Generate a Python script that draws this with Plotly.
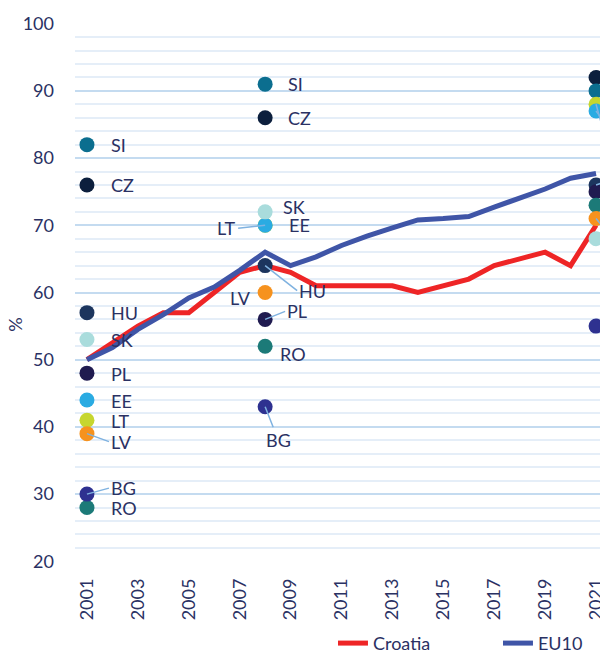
import plotly.graph_objects as go

# ---------------- data ----------------
years = list(range(2001, 2022))
croatia = [50, 52.5, 55, 57, 57, 60, 63, 64, 63, 61, 61, 61, 61, 60, 61, 62, 64, 65, 66, 64, 70]
eu10 = [50, 51.8, 54.5, 56.7, 59.2, 60.8, 63.3, 66, 64, 65.3, 67, 68.4, 69.6, 70.8, 71.0, 71.3, 72.7, 74.0, 75.4, 77.0, 77.7]

point_years = [2001, 2008, 2021]
cz = [76, 86, 92]
si = [82, 91, 90]
hu = [57, 64, 76]
pl = [48, 56, 75]
ro = [28, 52, 73]
lt = [41, 70, 88]
ee = [44, 70, 87]
lv = [39, 60, 71]
sk = [53, 72, 68]
bg = [30, 43, 55]

x_ticks = list(range(2001, 2022, 2))
y_ticks = list(range(20, 101, 10))

# ---------------- style ----------------
TXT = "#2a3163"
LEAD = "#7fb2e0"
FONT = "Lato"

series = [
    ("CZ", cz, "#0c1f3d"),
    ("SI", si, "#0b6e8f"),
    ("HU", hu, "#1c355e"),
    ("PL", pl, "#201b50"),
    ("RO", ro, "#1c7a78"),
    ("LT", lt, "#c6d62f"),
    ("EE", ee, "#2aabe2"),
    ("LV", lv, "#f6921e"),
    ("SK", sk, "#a9dcdc"),
    ("BG", bg, "#2e3190"),
]

# label placement per (country, year index): (dx px, dy px (down +), xanchor, leader?)
label_pos = {
    ("SI", 0): (22, 0, "left", False), ("CZ", 0): (22, 0, "left", False),
    ("HU", 0): (22, 0, "left", False), ("SK", 0): (22, 0, "left", False),
    ("PL", 0): (22, 1, "left", False), ("EE", 0): (22, 1, "left", False),
    ("LT", 0): (22, 1, "left", False), ("LV", 0): (22, 8, "left", True),
    ("BG", 0): (22, -6, "left", True), ("RO", 0): (22, 0, "left", False),

    ("SI", 1): (21, 0, "left", False), ("CZ", 1): (21, 0, "left", False),
    ("SK", 1): (16, -5, "left", False), ("EE", 1): (22, 0, "left", False),
    ("LT", 1): (-27, 3, "right", True), ("HU", 1): (32, 25, "left", True),
    ("LV", 1): (-12, 5, "right", False), ("PL", 1): (20, -8, "left", True),
    ("RO", 1): (13, 8, "left", False), ("BG", 1): (13, 33, "center", True),

    # 2021 labels sit beyond the right edge of the cropped chart
    ("CZ", 2): (26, 0, "left", False), ("SI", 2): (26, 0, "left", False),
    ("LT", 2): (30, 32, "left", True), ("EE", 2): (30, 12, "left", True),
    ("HU", 2): (30, -3, "left", True), ("PL", 2): (26, 0, "left", False),
    ("RO", 2): (26, 0, "left", False), ("LV", 2): (30, 11, "left", True),
    ("SK", 2): (26, 0, "left", False), ("BG", 2): (26, 0, "left", False),
}

fig = go.Figure()

fig.add_trace(go.Scatter(x=years, y=croatia, mode="lines", name="Croatia",
                         line=dict(color="#ee2526", width=5)))
fig.add_trace(go.Scatter(x=years, y=eu10, mode="lines", name="EU10",
                         line=dict(color="#3f55a7", width=5)))

annotations = []
for name, vals, col in series:
    fig.add_trace(go.Scatter(x=point_years, y=vals, mode="markers", name=name,
                             showlegend=False,
                             marker=dict(color=col, size=15, line=dict(width=0))))
    for i, (yr, v) in enumerate(zip(point_years, vals)):
        dx, dy, anc, lead = label_pos[(name, i)]
        annotations.append(dict(
            x=yr, y=v, xref="x", yref="y", text=name,
            showarrow=True, ax=dx, ay=dy, axref="pixel", ayref="pixel",
            xanchor=anc, yanchor="middle",
            arrowhead=0, arrowwidth=1.5, standoff=0,
            arrowcolor=LEAD if lead else "rgba(0,0,0,0)",
            font=dict(family=FONT, size=18, color=TXT),
        ))

# y-axis title "%" (placed below the axis middle, as in the original)
annotations.append(dict(text="%", xref="paper", yref="paper", x=-0.1126, y=0.44,
                        xanchor="center", yanchor="middle", textangle=-90,
                        showarrow=False, font=dict(family=FONT, size=18, color=TXT)))

# the page body adds an 8px margin, so the figure is 8px smaller than the window
fig.update_layout(
    width=600, height=645,
    margin=dict(l=67, r=0, t=15, b=91, autoexpand=False),
    plot_bgcolor="white", paper_bgcolor="white",
    font=dict(family=FONT, size=18, color=TXT),
    annotations=annotations,
    xaxis=dict(range=[2000.53, 2021.47], tickmode="array", tickvals=x_ticks,
               ticktext=[str(t) for t in x_ticks], tickangle=-90,
               showgrid=False, zeroline=False, showline=False, ticks="",
               ticklabelstandoff=12, automargin=False,
               tickfont=dict(family=FONT, size=18, color=TXT)),
    yaxis=dict(range=[19.9, 100.1], tickmode="array", tickvals=y_ticks,
               showgrid=True, gridcolor="#c4dbf0", gridwidth=2,
               minor=dict(dtick=2, tick0=20, showgrid=True, gridcolor="#e5eef8", gridwidth=2),
               zeroline=False, showline=False, ticks="",
               ticklabelstandoff=20, automargin=False,
               tickfont=dict(family=FONT, size=18, color=TXT)),
    legend=dict(orientation="h", x=0.484, y=-0.151, xanchor="left", yanchor="middle",
                font=dict(family=FONT, size=18, color=TXT),
                entrywidth=120, entrywidthmode="pixels", bgcolor="rgba(0,0,0,0)"),
    showlegend=True,
)

fig.write_html("out.html")
